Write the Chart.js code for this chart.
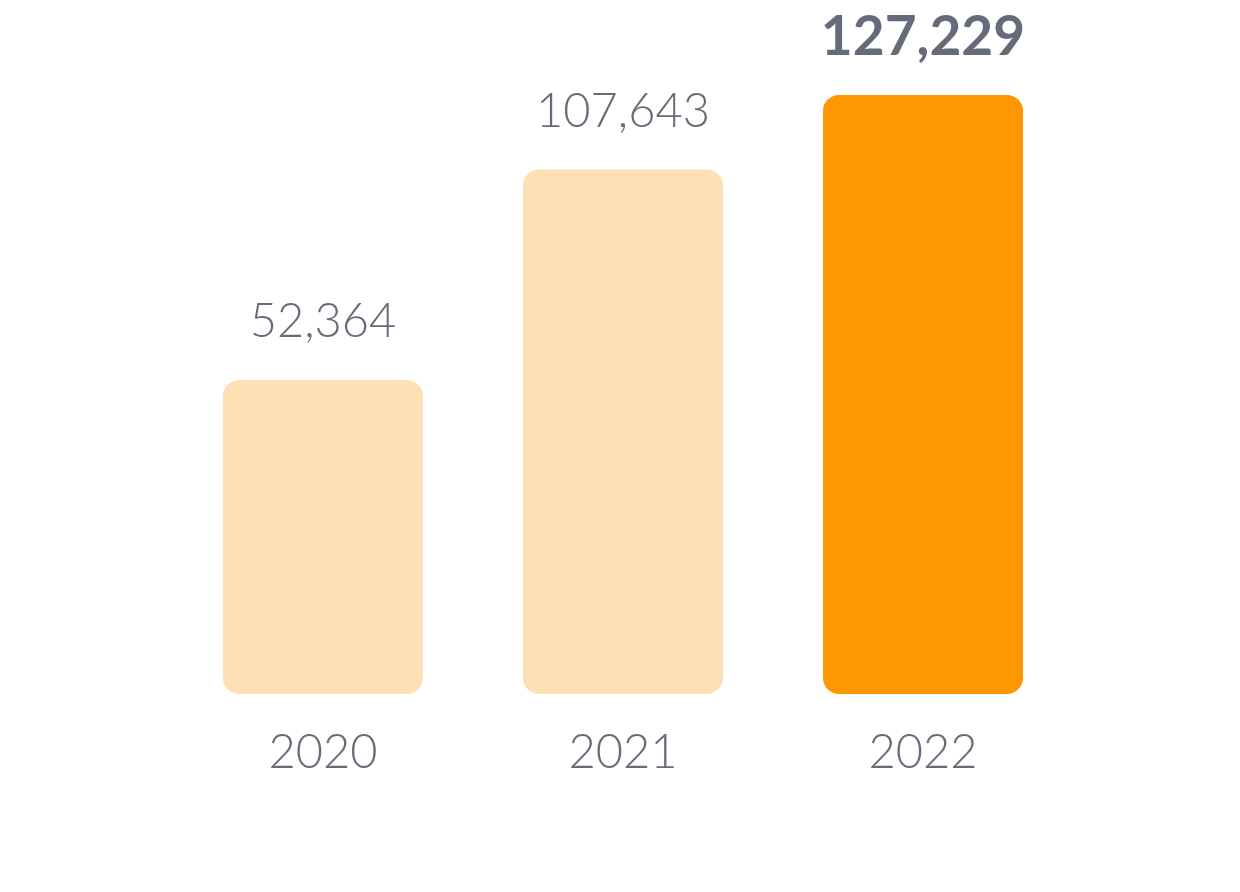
<!DOCTYPE html>
<html>
<head>
<meta charset="utf-8">
<script src="https://cdn.jsdelivr.net/npm/chart.js@4/dist/chart.umd.min.js"></script>
<style>
    html, body { margin: 0; padding: 0; background: #ffffff; }
    #wrap { width: 1240px; height: 892px; }
</style>
</head>
<body>
<div id="wrap"><canvas id="bar-chart"></canvas></div>
<script>
// Chart data
const years = ['2020', '2021', '2022'];
const totals = [52364, 107643, 127229];
const barColors = ['#fde0b3', '#fde0b3', '#ff9800'];
const boldLabel = [false, false, true];

// Value axis range (axis does not start at zero)
const yMin = -30000;
const yMax = 128000;

const textColor = '#656b78';
const fontFamily = 'Lato, "Noto Sans", sans-serif';

// Draw the numbers above the bars
const valueLabels = {
    id: 'valueLabels',
    afterDatasetsDraw(chart) {
        const ctx = chart.ctx;
        const meta = chart.getDatasetMeta(0);
        ctx.save();
        ctx.fillStyle = textColor;
        ctx.textAlign = 'center';
        ctx.textBaseline = 'middle';
        meta.data.forEach((bar, i) => {
            ctx.font = boldLabel[i]
                ? `bold 55px ${fontFamily}`
                : `300 47px ${fontFamily}`;
            ctx.fillText(totals[i].toLocaleString('en-US'), bar.x, bar.y - 58);
        });
        ctx.restore();
    }
};

const chartCanvas = document.getElementById('bar-chart');

const myChart = new Chart(chartCanvas, {
    type: 'bar',
    data: {
        labels: years,
        datasets: [{
            data: totals,
            base: yMin,
            backgroundColor: barColors,
            borderRadius: 16,
            borderSkipped: false,
            categoryPercentage: 1,
            barPercentage: 2 / 3
        }]
    },
    options: {
        responsive: true,
        maintainAspectRatio: false,
        animation: false,
        layout: {
            padding: { left: 173, right: 167, top: 92, bottom: 0 }
        },
        plugins: {
            legend: { display: false },
            tooltip: { enabled: false }
        },
        scales: {
            x: {
                grid: { display: false, drawTicks: false },
                border: { display: false },
                ticks: {
                    color: textColor,
                    padding: 31,
                    font: { family: fontFamily, size: 47, weight: '300' }
                },
                afterFit: (axis) => { axis.height = 198; }
            },
            y: {
                display: false,
                min: yMin,
                max: yMax
            }
        }
    },
    plugins: [valueLabels]
});
</script>
</body>
</html>
